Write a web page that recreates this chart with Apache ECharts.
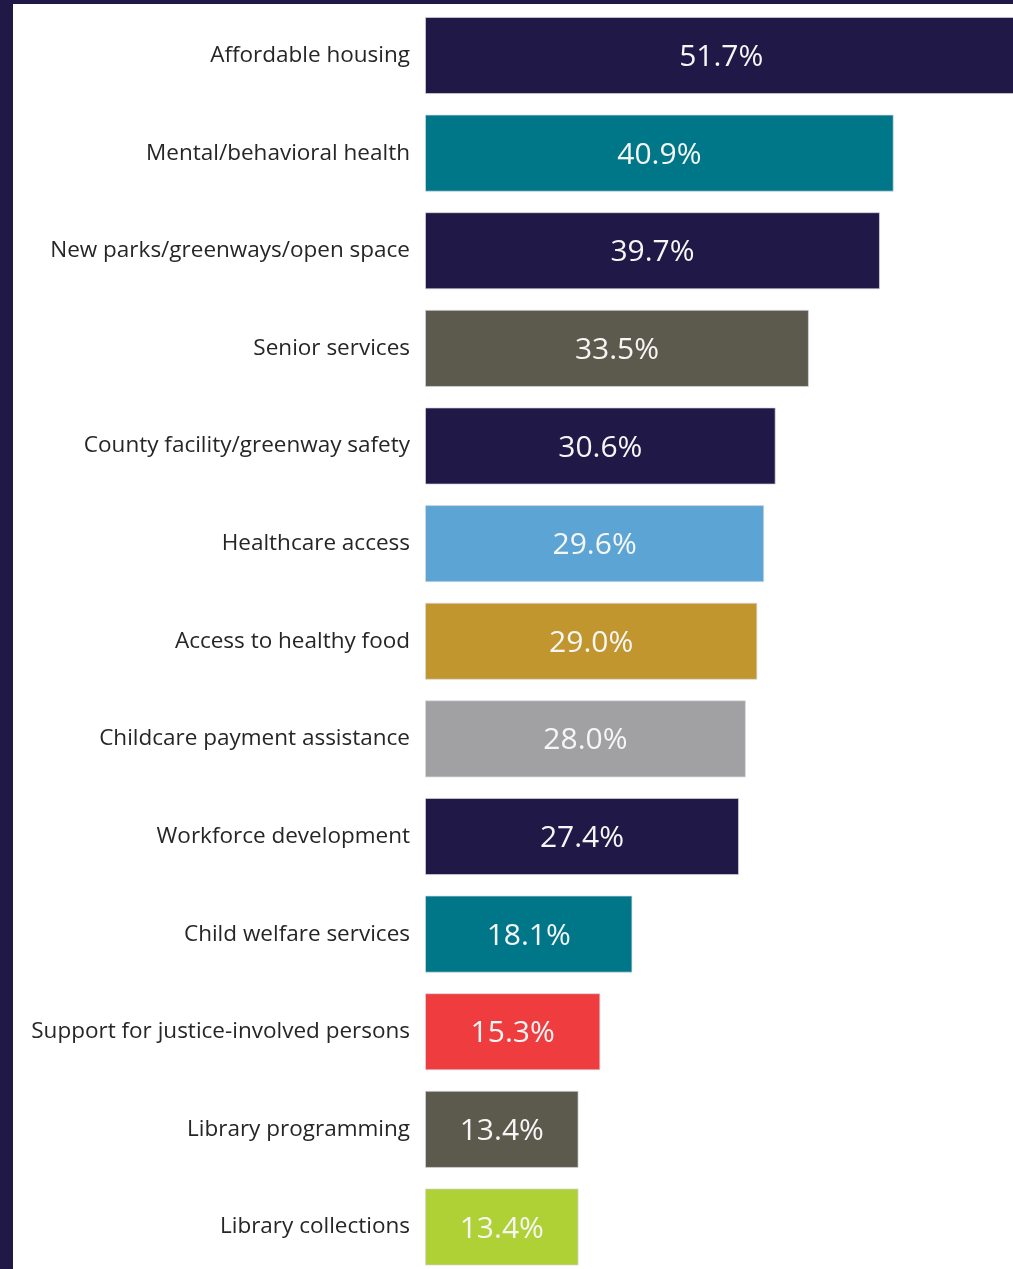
<!DOCTYPE html>
<html>
<head>
<meta charset="utf-8">
<script src="https://cdn.jsdelivr.net/npm/echarts@6/dist/echarts.min.js"></script>
<style>
  html, body { margin: 0; padding: 0; background: #201846; width: 1013px; height: 1269px; overflow: hidden; }
  /* the plot runs past the right and bottom edges of the page; the page clips it */
  #chart { position: absolute; left: 13px; top: 4px; width: 1100px; height: 1300px; background: #ffffff; }
</style>
</head>
<body>
<div id="chart"></div>
<script>
// Share of respondents naming each priority (%)
const categories = [
  'Affordable housing',
  'Mental/behavioral health',
  'New parks/greenways/open space',
  'Senior services',
  'County facility/greenway safety',
  'Healthcare access',
  'Access to healthy food',
  'Childcare payment assistance',
  'Workforce development',
  'Child welfare services',
  'Support for justice-involved persons',
  'Library programming',
  'Library collections'
];
const values = [51.7, 40.9, 39.7, 33.5, 30.6, 29.6, 29.0, 28.0, 27.4, 18.1, 15.3, 13.4, 13.4];
const barColors = [
  '#201846', '#007789', '#201846', '#5c594d', '#201846', '#5ca4d4', '#c2962f',
  '#a1a1a3', '#201846', '#007789', '#ef3d3f', '#5c594d', '#afd136'
];

const chart = echarts.init(document.getElementById('chart'), null, { renderer: 'canvas' });

chart.setOption({
  animation: false,
  backgroundColor: '#ffffff',
  grid: { left: 412, top: 2.7, width: 687.6, height: 1269.1, containLabel: false },
  xAxis: {
    type: 'value', min: 0, max: 60, show: false
  },
  yAxis: {
    type: 'category',
    data: categories,
    inverse: true,
    axisLine: { show: false },
    axisTick: { show: false },
    splitLine: { show: false },
    axisLabel: {
      margin: 15,
      color: '#262626',
      fontSize: 22.5,
      padding: [4, 0, 0, 0],
      fontFamily: '"Open Sans", "Noto Sans", sans-serif'
    }
  },
  series: [{
    type: 'bar',
    barCategoryGap: '21%',
    data: values.map((v, i) => ({
      value: v,
      itemStyle: { color: barColors[i] }
    })),
    itemStyle: { borderColor: 'rgba(215,215,225,0.7)', borderWidth: 1 },
    label: {
      show: true,
      position: 'inside',
      offset: [0, 2],
      color: '#f6f6f6',
      fontSize: 30,
      fontFamily: '"Open Sans", "Noto Sans", sans-serif',
      formatter: p => p.value.toFixed(1) + '%'
    }
  }]
});
</script>
</body>
</html>
